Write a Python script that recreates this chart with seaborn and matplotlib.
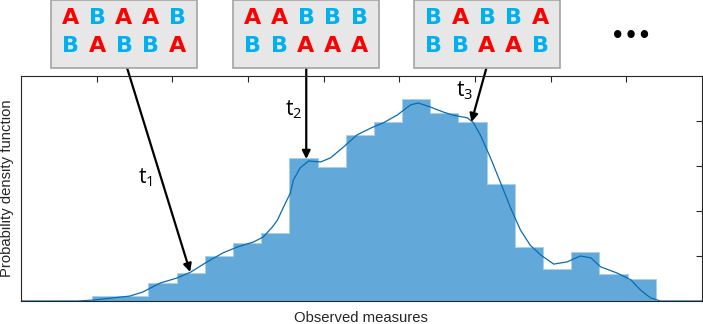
import numpy as np
import pandas as pd
import matplotlib
matplotlib.use("Agg")
import matplotlib.pyplot as plt
from matplotlib.patches import Rectangle
import seaborn as sns

# ---------------- data ----------------
bin_start = 0.94
bin_width = 0.3724
hist_heights = [0.11, 0.11, 0.40, 0.62, 1.00, 1.29, 1.51, 3.18, 2.98, 3.69,
                3.98, 4.49, 4.18, 3.98, 2.60, 1.20, 0.71, 1.09, 0.60, 0.49]

kde_x = [0.00, 0.75, 0.95, 1.22, 1.44, 1.61, 1.84, 2.06, 2.24, 2.46, 2.67, 2.86,
         3.07, 3.20, 3.32, 3.39, 3.47, 3.56, 3.60, 3.69, 3.75, 3.80, 3.88, 3.96,
         4.09, 4.26, 4.44, 4.62, 4.79, 4.97, 5.15, 5.25, 5.41, 5.58, 5.71, 5.90,
         5.98, 6.07, 6.20, 6.34, 6.47, 6.60, 6.73, 6.87, 7.04, 7.22, 7.39, 7.53,
         7.66, 7.88, 8.06, 8.19, 8.32, 8.45, 9.00]
kde_y = [0.00, 0.00, 0.02, 0.07, 0.11, 0.20, 0.40, 0.51, 0.64, 0.87, 1.07, 1.20,
         1.31, 1.42, 1.64, 1.80, 2.09, 2.40, 2.69, 2.96, 3.04, 3.11, 3.10, 3.09,
         3.18, 3.42, 3.69, 3.84, 3.96, 4.13, 4.36, 4.40, 4.31, 4.20, 4.13, 4.07,
         3.96, 3.69, 3.20, 2.62, 2.07, 1.58, 1.24, 1.02, 0.82, 0.87, 1.00, 0.96,
         0.76, 0.62, 0.47, 0.24, 0.07, 0.00, 0.00]

sequences = [("ABAAB", "BABBA"), ("AABBB", "BBAAA"), ("BABBA", "BBAAB")]
time_labels = ["t_1", "t_2", "t_3"]
x_label = "Observed measures"
y_label = "Probability density function"
x_ticks = [1, 2, 3, 4, 5, 6, 7, 8]
y_ticks = [1, 2, 3, 4]

# ---------------- figure ----------------
sns.set_theme(style="white")
plt.rcParams["font.family"] = ["Liberation Sans", "DejaVu Sans"]

W, H = 703, 324
fig = plt.figure(figsize=(W / 100, H / 100), dpi=100)
ax = fig.add_axes([21 / W, 23 / H, 681 / W, 225 / H])

n = len(hist_heights)
edges = [float(bin_start + bin_width * i) for i in range(n + 1)]
centers = [(edges[i] + edges[i + 1]) / 2 for i in range(n)]
df = pd.DataFrame({"x": centers, "w": hist_heights})
sns.histplot(data=df, x="x", weights="w", bins=edges, element="step",
             fill=True, color="#62A9DA", alpha=1, edgecolor="#A9D0EC",
             linewidth=0.7, ax=ax)
sns.lineplot(x=kde_x, y=kde_y, color="#0A6BB0", linewidth=0.9, ax=ax)

ax.set_xlim(0, 9)
ax.set_ylim(0, 5)
ax.set_xticks(x_ticks)
ax.set_yticks(y_ticks)
ax.tick_params(direction="in", top=True, right=True, length=4, width=0.8,
               color="#262626", labelleft=False, labelbottom=False)
for s in ax.spines.values():
    s.set_color("#262626")
    s.set_linewidth(0.8)
    s.set_zorder(5)
ax.set_xlabel("")
ax.set_ylabel("")
fig.text(361 / W, 1 - 318 / H, x_label, ha="center", va="center",
         fontsize=10.7, color="#262626")
fig.text(7 / W, 1 - 188 / H, y_label, ha="center", va="center",
         rotation=90, fontsize=10.7, color="#262626")

# ---------------- boxes with sequences ----------------
def fx(px):
    return px / W

def fy(py):
    return 1 - py / H

box_centers = [124, 306, 487]
box_w = 146
for bc, (r1, r2) in zip(box_centers, sequences):
    fig.patches.append(Rectangle((fx(bc - box_w / 2), fy(68)), box_w / W, 67.5 / H,
                                 transform=fig.transFigure, facecolor="#E6E7E6",
                                 edgecolor="#A3A3A3", linewidth=1.2, zorder=1))
    for row, yy in ((r1, 18.5), (r2, 46.5)):
        for i, ch in enumerate(row):
            col = "#FF0000" if ch == "A" else "#00B0F0"
            fig.text(fx(bc + (i - 2) * 26.75), fy(yy), ch, ha="center", va="center",
                     fontsize=16, fontweight="heavy", color=col,
                     family=["DejaVu Sans"], zorder=2)

fig.text(fx(631), fy(36), "\u2022\u2022\u2022", ha="center", va="center",
         fontsize=15, fontweight="bold", color="black", family=["DejaVu Sans"])

# ---------------- arrows ----------------
def dx(px):
    return (px - 21) / 75.6

def dy(py):
    return (301 - py) / 45

arrows = [((127, 68), (190, 272)), ((306, 68), (306, 159)), ((486, 68), (471, 122))]
for (sx, sy), (ex, ey) in arrows:
    ax.annotate("", xy=(dx(ex), dy(ey)), xytext=(dx(sx), dy(sy)),
                xycoords="data", textcoords="data", annotation_clip=False,
                arrowprops=dict(arrowstyle="-|>", color="black", lw=1.6,
                                mutation_scale=12, shrinkA=0, shrinkB=0))

label_pos = [(145, 178), (294, 110), (465, 91)]
for (px, py), lab in zip(label_pos, time_labels):
    fig.text(fx(px), fy(py), "$\\mathregular{" + lab + "}$", ha="center",
             va="center", fontsize=15, color="black", family=["Open Sans"])

fig.savefig("out.png", dpi=100)
